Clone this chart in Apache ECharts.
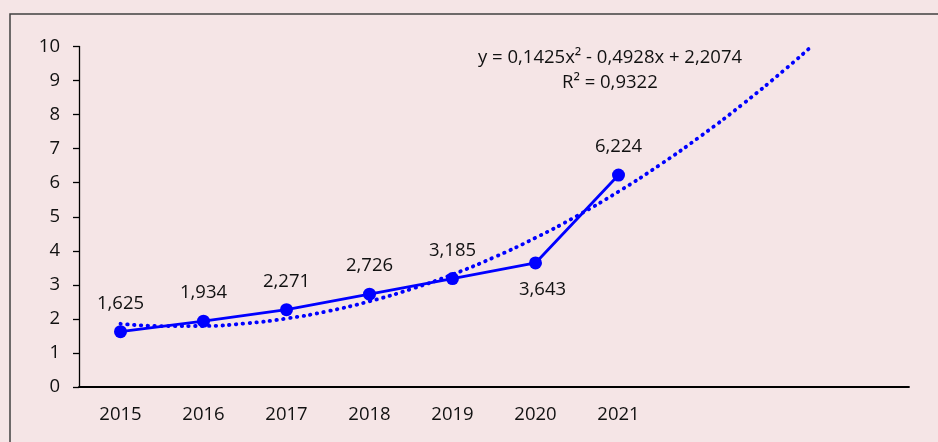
<!DOCTYPE html>
<html>
<head>
<meta charset="utf-8">
<script src="https://cdn.jsdelivr.net/npm/echarts@6/dist/echarts.min.js"></script>
<style>
  html, body { margin: 0; padding: 0; background: #f5e5e6; }
  #chart { width: 938px; height: 442px; }
</style>
</head>
<body>
<div id="chart"></div>
<script>
// dados
const years = ["2015", "2016", "2017", "2018", "2019", "2020", "2021", "", "", ""];
const values = [1.625, 1.934, 2.271, 2.726, 3.185, 3.643, 6.224];
// linha de tendência (polinomial)
const trendX = [1, 1.5, 2, 2.5, 3, 3.5, 4, 4.5, 5, 5.5, 6, 6.5, 7, 7.5, 8, 8.5, 9, 9.32];
const trendY = [1.857, 1.789, 1.792, 1.866, 2.012, 2.228, 2.516, 2.875, 3.306, 3.808, 4.381, 5.025, 5.74, 6.527, 7.385, 8.314, 9.315, 9.992];
const yTicks = [0, 1, 2, 3, 4, 5, 6, 7, 8, 9, 10];
const equation = "y = 0,1425x² - 0,4928x + 2,2074";
const rSquared = "R² = 0,9322";

const font = "Open Sans";
const fs = 18.5;
const txt = "#111";
const blue = "#0000ff";

let myChart = echarts.init(document.getElementById("chart"));

myChart.setOption({
  backgroundColor: "#f5e5e6",
  animation: false,
  textStyle: { fontFamily: font },
  grid: { left: 79, right: 29, top: 46.5, bottom: 55, containLabel: false },
  xAxis: [
    {
      type: "category",
      data: years,
      boundaryGap: true,
      axisLine: { lineStyle: { color: "#000", width: 1.8 } },
      axisTick: { show: false },
      axisLabel: { color: txt, fontSize: fs, margin: 18, fontFamily: font },
      splitLine: { show: false }
    },
    {
      // eixo auxiliar para a tendência
      type: "value",
      min: 0.5,
      max: 10.5,
      show: false
    }
  ],
  yAxis: {
    type: "value",
    min: yTicks[0],
    max: yTicks[yTicks.length - 1],
    interval: 1,
    axisLine: { show: true, lineStyle: { color: "#000", width: 1.3 } },
    axisTick: { show: true, length: 6, lineStyle: { color: "#000", width: 1.3 } },
    axisLabel: { color: txt, fontSize: fs, margin: 19, fontFamily: font },
    splitLine: { show: false }
  },
  graphic: [
    {
      type: "rect",
      shape: { x: 10, y: 14, width: 1000, height: 500 },
      style: { fill: "none", stroke: "#404040", lineWidth: 1.5 },
      silent: true
    },
    {
      type: "text",
      left: 478,
      top: 48,
      style: { text: equation, fill: txt, font: fs + "px '" + font + "'" }
    },
    {
      type: "text",
      left: 562,
      top: 73,
      style: { text: rSquared, fill: txt, font: fs + "px '" + font + "'" }
    }
  ],
  series: [
    {
      name: "tendência",
      type: "line",
      xAxisIndex: 1,
      data: trendX.map((x, i) => [x, trendY[i]]),
      smooth: true,
      showSymbol: false,
      symbol: "none",
      clip: true,
      lineStyle: { color: blue, width: 3.8, type: [0.5, 6.3], cap: "round" },
      z: 2
    },
    {
      name: "valores",
      type: "line",
      xAxisIndex: 0,
      data: values,
      symbol: "circle",
      symbolSize: 13,
      itemStyle: { color: blue },
      lineStyle: { color: blue, width: 2.8 },
      label: {
        show: true,
        position: "top",
        distance: 12,
        color: txt,
        fontSize: fs,
        fontFamily: font,
        formatter: p => p.value.toFixed(3).replace(".", ",")
      },
      labelLayout: p => {
        if (p.dataIndex === 5) {
          return { dy: 55, dx: 7 };
        }
        return {};
      },
      z: 3
    }
  ]
});
</script>
</body>
</html>
